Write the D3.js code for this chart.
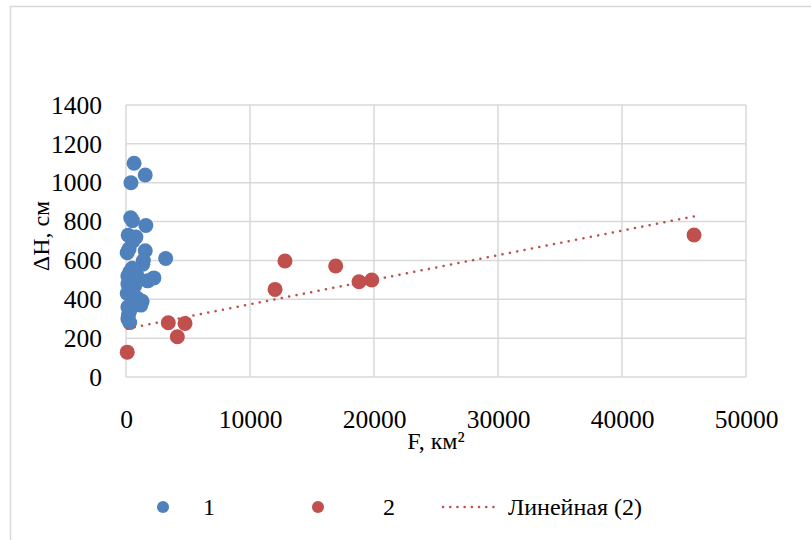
<!DOCTYPE html>
<html><head><meta charset="utf-8">
<script src="https://cdn.jsdelivr.net/npm/d3@7"></script>
<style>html,body{margin:0;padding:0;background:#fff;}
svg text{font-family:"Liberation Serif","Times New Roman",serif;}</style>
</head><body>
<svg id="chart" width="811" height="540"></svg>
<script>
// Series 1 (blue): F, км² and ΔH, см
const series1X = [650,1550,400,380,520,1600,180,800,560,250,1550,100,3200,1400,1350,500,300,150,900,2250,1750,600,150,700,400,100,800,1000,1300,1200,150,300,200,150,300];
const series1Y = [1100,1040,1000,820,805,780,730,720,700,660,650,640,610,600,580,560,540,520,520,510,495,500,480,470,450,430,410,400,390,370,360,340,320,300,280];
// Series 2 (red)
const series2X = [100,3410,4760,4140,12020,12820,16910,18790,19820,45810];
const series2Y = [128,279,276,207,451,597,571,490,499,731];
const xTicks = [0,10000,20000,30000,40000,50000];
const yTicks = [0,200,400,600,800,1000,1200,1400];
const legendLabels = ["1","2","Линейная (2)"];
const xTitle = "F, км²";
const yTitle = "ΔH, см";

const svg = d3.select("#chart");
const font = "Liberation Serif";
const blue = "#4F81BD", red = "#C0504D", grid = "#d9d9d9";

// chart outer border
svg.append("rect").attr("x",10.5).attr("y",6.5).attr("width",900).attr("height",600)
  .attr("fill","none").attr("stroke",grid).attr("stroke-width",1.5);

const x = d3.scaleLinear().domain([0,50000]).range([126,746]);
const y = d3.scaleLinear().domain([0,1400]).range([377,105]);

// gridlines
svg.append("g").selectAll("line").data(yTicks).join("line")
  .attr("x1",x(0)).attr("x2",x(50000)).attr("y1",d=>y(d)).attr("y2",d=>y(d))
  .attr("stroke",grid).attr("stroke-width",1.5);
svg.append("g").selectAll("line").data(xTicks).join("line")
  .attr("y1",y(0)).attr("y2",y(1400)).attr("x1",d=>x(d)).attr("x2",d=>x(d))
  .attr("stroke",grid).attr("stroke-width",1.5);

// axes (labels only)
const yAxis = svg.append("g").attr("transform",`translate(${x(0)},0)`)
  .call(d3.axisLeft(y).tickValues(yTicks).tickSize(0).tickPadding(24).tickFormat(d3.format("d")));
yAxis.attr("font-family",font).attr("font-size",25.5);
yAxis.select(".domain").remove();
yAxis.selectAll("text").attr("fill","#000");
const xAxis = svg.append("g").attr("transform",`translate(0,${y(0)})`)
  .call(d3.axisBottom(x).tickValues(xTicks).tickSize(0).tickPadding(33).tickFormat(d3.format("d")));
xAxis.attr("font-family",font).attr("font-size",25.5);
xAxis.select(".domain").remove();
xAxis.selectAll("text").attr("fill","#000");

// titles
svg.append("text").attr("x",436).attr("y",449).attr("text-anchor","middle")
  .attr("font-size",24).text(xTitle);
svg.append("text").attr("transform","translate(49,236) rotate(-90)").attr("text-anchor","middle")
  .attr("font-size",24).text(yTitle);

// points
const d1 = series1X.map((v,i)=>({x:v,y:series1Y[i]}));
const d2 = series2X.map((v,i)=>({x:v,y:series2Y[i]}));
svg.append("g").selectAll("circle").data(d1).join("circle")
  .attr("cx",d=>x(d.x)).attr("cy",d=>y(d.y)).attr("r",7.5).attr("fill",blue);
svg.append("g").selectAll("circle").data(d2).join("circle")
  .attr("cx",d=>x(d.x)).attr("cy",d=>y(d.y)).attr("r",7.5).attr("fill",red);

// linear trendline for series 2 (least squares)
const mx = d3.mean(series2X), my = d3.mean(series2Y);
const slope = d3.sum(d2,d=>(d.x-mx)*(d.y-my))/d3.sum(d2,d=>(d.x-mx)**2);
const icpt = my - slope*mx;
const x0 = d3.min(series2X), x1 = d3.max(series2X);
svg.append("line").attr("x1",x(x0)).attr("y1",y(icpt+slope*x0)).attr("x2",x(x1)).attr("y2",y(icpt+slope*x1))
  .attr("stroke",red).attr("stroke-width",2.5).attr("stroke-dasharray","0.1 7.4").attr("stroke-linecap","round");

// legend
const lg = svg.append("g").attr("font-size",24);
lg.append("circle").attr("cx",163).attr("cy",507).attr("r",6).attr("fill",blue);
lg.append("text").attr("x",203).attr("y",515).text(legendLabels[0]);
lg.append("circle").attr("cx",318).attr("cy",507).attr("r",6).attr("fill",red);
lg.append("text").attr("x",383).attr("y",515).text(legendLabels[1]);
lg.append("line").attr("x1",443).attr("x2",500).attr("y1",507).attr("y2",507)
  .attr("stroke",red).attr("stroke-width",2.5).attr("stroke-dasharray","0.1 7.1").attr("stroke-linecap","round");
lg.append("text").attr("x",508).attr("y",515).text(legendLabels[2]);
</script>
</body></html>
